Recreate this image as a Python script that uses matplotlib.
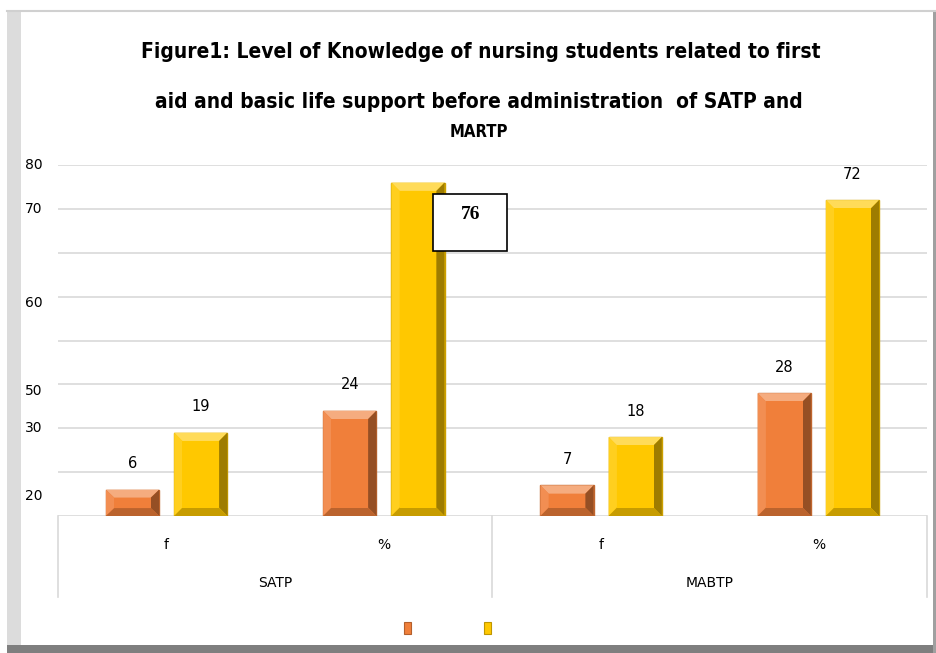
import matplotlib.pyplot as plt
from matplotlib.patches import Rectangle, Polygon
import matplotlib.colors as mcolors

plt.rcParams['font.family'] = ['DejaVu Sans']

# data
groups = ["SATP", "MABTP"]
subcats = ["f", "%", "f", "%"]
before = [6, 24, 7, 28]       # orange series
after = [19, 76, 18, 72]      # yellow series
# y tick labels as they appear (misplaced in the original)
ytick_text = ["80", "70", "60", "50", "30", "20"]
ytick_pos = [80, 70, 48.6, 28.5, 20, 4.5]

orange = "#F07F3A"
yellow = "#FFC800"


def shade(c, f):
    r, g, b = mcolors.to_rgb(c)
    if f > 1:
        return (r + (1 - r) * (f - 1), g + (1 - g) * (f - 1), b + (1 - b) * (f - 1))
    return (r * f, g * f, b * f)


def bevel_bar(ax, x, h, w, color, bx=0.038, by=1.9):
    x0, x1 = x - w / 2, x + w / 2
    by = min(by, h * 0.3)
    ax.add_patch(Rectangle((x0, 0), w, h, facecolor=color,
                           edgecolor=shade(color, 0.8), lw=1.0, zorder=3))
    ix0, ix1, iy0, iy1 = x0 + bx, x1 - bx, by, h - by
    facets = [
        ([(x0, h), (x1, h), (ix1, iy1), (ix0, iy1)], shade(color, 1.35)),
        ([(x0, 0), (x0, h), (ix0, iy1), (ix0, iy0)], shade(color, 1.12)),
        ([(x1, 0), (x1, h), (ix1, iy1), (ix1, iy0)], shade(color, 0.62)),
        ([(x0, 0), (x1, 0), (ix1, iy0), (ix0, iy0)], shade(color, 0.78)),
    ]
    for pts, c in facets:
        ax.add_patch(Polygon(pts, closed=True, facecolor=c, edgecolor='none', zorder=4))
    ax.add_patch(Rectangle((ix0, iy0), ix1 - ix0, iy1 - iy0, facecolor=color,
                           edgecolor='none', zorder=5))


fig = plt.figure(figsize=(9.37, 6.53), dpi=100)
W, H = 937, 653

# outer frame with shadow
fig.add_artist(Rectangle((7 / W, 0), 14 / W, (H - 11) / H, transform=fig.transFigure,
                         facecolor="#dcdcdc", edgecolor='none'))
fig.add_artist(Rectangle((7 / W, 0), (W - 7) / W, 8 / H, transform=fig.transFigure,
                         facecolor="#7f7f7f", edgecolor='none'))
fig.add_artist(Rectangle((933 / W, 0), 4 / W, (H - 11) / H, transform=fig.transFigure,
                         facecolor="#a0a0a0", edgecolor='none'))
fig.add_artist(plt.Line2D([7 / W, 935 / W], [(H - 11) / H] * 2, transform=fig.transFigure,
                          color="#d0d0d0", lw=1.5))

ax = fig.add_axes([58 / W, (H - 516) / H, (927 - 58) / W, (516 - 165) / H])
ax.set_xlim(-0.5, 3.5)
ax.set_ylim(0, 80)
for s in ax.spines.values():
    s.set_visible(False)
ax.set_xticks([])
ax.set_yticks([])
for v in range(0, 81, 10):
    ax.axhline(v, color="#d9d9d9", lw=1.2, zorder=1)

w = 0.245
off = 0.157
for i in range(len(subcats)):
    bevel_bar(ax, i - off, before[i], w, orange)
    bevel_bar(ax, i + off, after[i], w, yellow)
    ax.text(i - off, before[i] + 4.2, str(before[i]), ha='center', va='bottom', fontsize=10.5)
    if after[i] != 76:
        ax.text(i + off, after[i] + 4.2, str(after[i]), ha='center', va='bottom', fontsize=10.5)

# boxed label for 76
ax.add_patch(Rectangle((0.432, 0.755), 0.085, 0.162, transform=ax.transAxes,
                       facecolor='white', edgecolor='black', lw=1.2, zorder=6, clip_on=False))
ax.text(0.4745, 0.86, "76", transform=ax.transAxes, ha='center', va='center',
        fontsize=14, fontweight='bold', family='Liberation Serif', zorder=7)

# y labels
for t, p in zip(ytick_text, ytick_pos):
    ax.text(-0.018, p, t, transform=ax.get_yaxis_transform(), ha='right', va='center',
            fontsize=10)

# category table
for xa in [0, 0.5, 1]:
    ax.plot([xa, xa], [0, -0.231], transform=ax.transAxes, color="#d9d9d9",
            lw=1.2, clip_on=False)
for i, c in enumerate(subcats):
    ax.text((i + 0.5) / 4, -0.083, c, transform=ax.transAxes, ha='center', va='center',
            fontsize=10)
for j, g in enumerate(groups):
    ax.text(0.25 + 0.5 * j, -0.191, g, transform=ax.transAxes, ha='center', va='center',
            fontsize=10)

# legend markers (no labels)
fig.add_artist(Rectangle((404 / W, (H - 634) / H), 7 / W, 12 / H, transform=fig.transFigure,
                         facecolor=orange, edgecolor=shade(orange, 0.75), lw=0.8))
fig.add_artist(Rectangle((484 / W, (H - 634) / H), 7 / W, 12 / H, transform=fig.transFigure,
                         facecolor=yellow, edgecolor=shade(yellow, 0.75), lw=0.8))

# title
tkw = dict(ha='center', va='center', fontweight='bold', family='DejaVu Sans',
           fontstretch='condensed')
fig.text(481 / W, (H - 52) / H, "Figure1: Level of Knowledge of nursing students related to first",
         fontsize=15, **tkw)
fig.text(479 / W, (H - 102) / H, "aid and basic life support before administration  of SATP and",
         fontsize=15, **tkw)
fig.text(479 / W, (H - 132) / H, "MARTP", fontsize=12, **tkw)

fig.savefig("out.png", dpi=100)
